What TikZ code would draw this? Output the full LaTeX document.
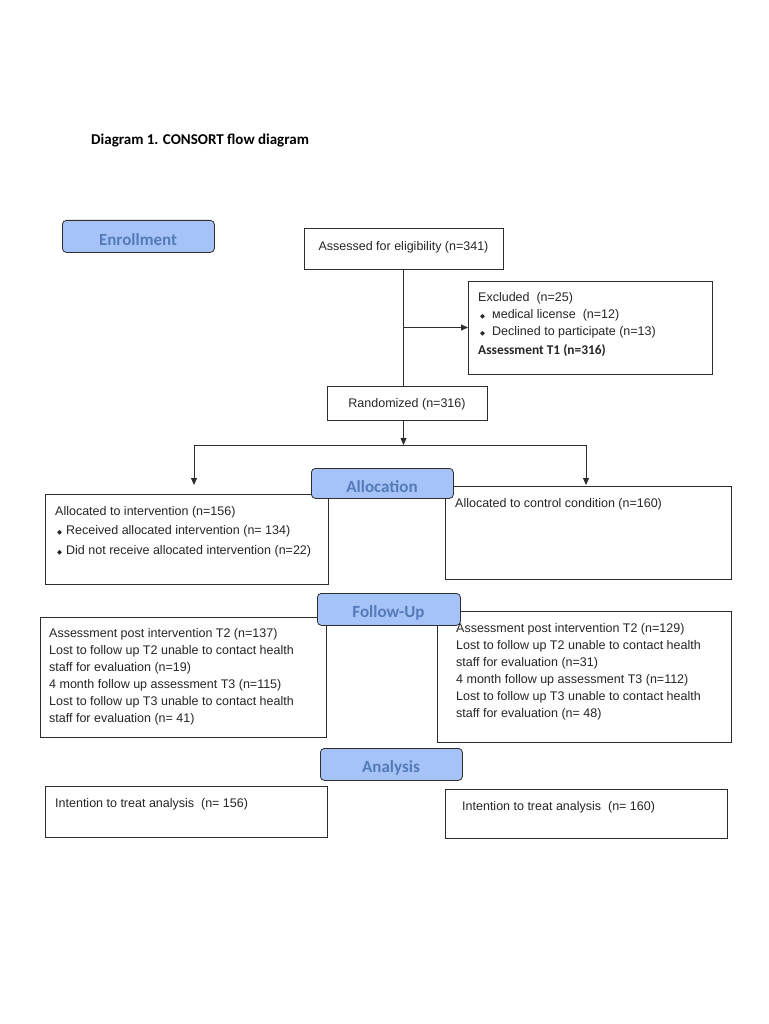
\documentclass[tikz,border=0pt]{standalone}
\usepackage{fontspec}
\setmainfont{Liberation Sans}
\newfontfamily\calib{Carlito}
\newfontfamily\djv{DejaVu Sans}
\usetikzlibrary{arrows.meta}
\definecolor{lblfill}{RGB}{166,195,247}
\definecolor{lbltext}{RGB}{84,122,186}
\definecolor{edgec}{RGB}{45,45,45}
\newcommand{\bul}{\hspace*{2pt}{\djv\fontsize{6.5}{6.5}\selectfont ◆}\hspace{4pt}}
\newcommand{\bulx}{\hspace*{2pt}{\djv\fontsize{6.5}{6.5}\selectfont ◆}\hspace{7pt}}
\begin{document}
\begin{tikzpicture}[x=1pt,y=-1pt,
  box/.style={draw=edgec, line width=0.8pt, inner sep=0pt, outer sep=0pt, anchor=north west},
  stage/.style={draw=edgec, fill=lblfill, rounded corners=4pt, line width=0.8pt, inner sep=0pt, anchor=north west},
  stagetxt/.style={inner sep=0pt, font=\calib\bfseries\fontsize{17}{17}\selectfont, text=lbltext},
  txt/.style={anchor=north west, inner sep=0pt, align=left, font=\fontsize{12.5}{17}\selectfont, text=black!85},
  ctxt/.style={inner sep=0pt, font=\fontsize{12.5}{14}\selectfont, text=black!85},
  line/.style={draw=edgec, line width=0.8pt},
  arr/.style={line, -{Triangle[length=7pt,width=6pt]}}]
\useasboundingbox[fill=white] (0,0) rectangle (768,1024);

\node[anchor=west, inner sep=0pt, font=\calib\bfseries\fontsize{15}{15}\selectfont] (title) at (91,141) {Diagram 1. CONSORT flow diagram};

% enrollment
\node[stage, minimum width=152pt, minimum height=32pt] (enroll) at (62,220) {};
\node[stagetxt] (enrollT) at (138,240) {Enrollment};

\node[box, minimum width=199pt, minimum height=41pt] (assess) at (304,228) {};
\node[ctxt] (assessT) at (403.5,247) {Assessed for eligibility (n=341)};

\node[box, minimum width=244pt, minimum height=93pt] (excl) at (468,281) {};
\node[txt] (exclT) at (478,292) {Excluded\ \ (n=25)\\ \bulx мedical license\ \ (n=12)\\ \bulx Declined to participate (n=13)\\[2pt] {\calib\bfseries\fontsize{13.4}{13.4}\selectfont Assessment T1 (n=316)}};

\node[box, minimum width=160pt, minimum height=34pt] (rand) at (327,386) {};
\node[ctxt] (randT) at (407,404) {Randomized (n=316)};

% connectors top
\draw[line] (assess.south) -- (assess.south |- rand.north);
\draw[arr] (assess.south |- excl.west) -- (excl.west);
\coordinate (split) at (403.5,445);
\coordinate (lend) at (194,485);
\coordinate (rend) at (586,485);
\draw[arr] (rand.south -| assess.south) -- (split);
\draw[line] (lend |- split) -- (rend |- split);
\draw[arr] (lend |- split) -- (lend);
\draw[arr] (rend |- split) -- (rend);

% allocation
\node[box, minimum width=283pt, minimum height=90pt] (lalloc) at (45,494) {};
\node[txt, font=\fontsize{12.5}{19.5}\selectfont] (lallocT) at (55,506) {Allocated to intervention (n=156)\\ \bul Received allocated intervention (n= 134)\\ \bul Did not receive allocated intervention (n=22)};
\node[box, minimum width=286pt, minimum height=93pt] (ralloc) at (445,486) {};
\node[txt] (rallocT) at (455,498) {Allocated to control condition (n=160)};
\node[stage, minimum width=142pt, minimum height=30pt] (alloc) at (311,468) {};
\node[stagetxt] (allocT) at (382,487) {Allocation};

% follow-up
\node[box, minimum width=286pt, minimum height=120pt] (lfu) at (40,617) {};
\node[txt] (lfuT) at (49,628) {Assessment post intervention T2 (n=137)\\ Lost to follow up T2 unable to contact health\\ staff for evaluation (n=19)\\ 4 month follow up assessment T3 (n=115)\\ Lost to follow up T3 unable to contact health\\ staff for evaluation (n= 41)};
\node[box, minimum width=294pt, minimum height=131pt] (rfu) at (437,611) {};
\node[txt] (rfuT) at (456,623) {Assessment post intervention T2 (n=129)\\ Lost to follow up T2 unable to contact health\\ staff for evaluation (n=31)\\ 4 month follow up assessment T3 (n=112)\\ Lost to follow up T3 unable to contact health\\ staff for evaluation (n= 48)};
\node[stage, minimum width=143pt, minimum height=32pt] (fu) at (317,593) {};
\node[stagetxt] (fuT) at (388.5,613) {Follow-Up};

% analysis
\node[stage, minimum width=142pt, minimum height=32pt] (anl) at (320,748) {};
\node[stagetxt] (anlT) at (391,768) {Analysis};
\node[box, minimum width=282pt, minimum height=51pt] (lan) at (45,786) {};
\node[txt] (lanT) at (55,798) {Intention to treat analysis\ \ (n= 156)};
\node[box, minimum width=282pt, minimum height=49pt] (ran) at (445,789) {};
\node[txt] (ranT) at (462,801) {Intention to treat analysis\ \ (n= 160)};
\end{tikzpicture}
\end{document}
